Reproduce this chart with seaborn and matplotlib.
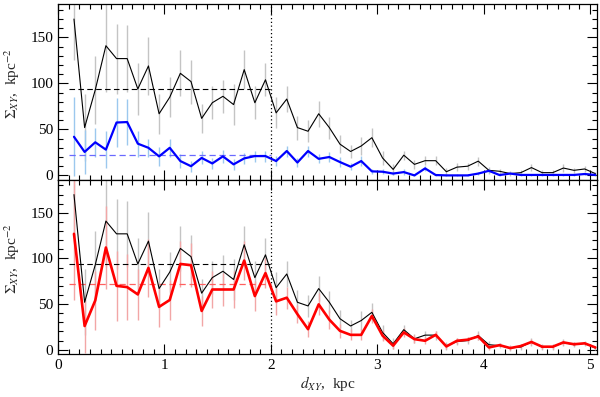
import numpy as np
import pandas as pd
import matplotlib
matplotlib.use("Agg")
import matplotlib.pyplot as plt
import seaborn as sns
from matplotlib.ticker import MultipleLocator

# ---- data ----
d_xy = [0.15, 0.25, 0.35, 0.45, 0.55, 0.65, 0.75, 0.85, 0.95, 1.05,
        1.15, 1.25, 1.35, 1.45, 1.55, 1.65, 1.75, 1.85, 1.95, 2.05,
        2.15, 2.25, 2.35, 2.45, 2.55, 2.65, 2.75, 2.85, 2.95, 3.05,
        3.15, 3.25, 3.35, 3.45, 3.55, 3.65, 3.75, 3.85, 3.95, 4.05,
        4.15, 4.25, 4.35, 4.45, 4.55, 4.65, 4.75, 4.85, 4.95, 5.05]

sigma_total = [170, 52, 93, 141, 127, 127, 94, 119, 67, 85,
               111, 102, 62, 79, 86, 77, 115, 79, 104, 68,
               83, 52, 48, 67, 52, 34, 26, 32, 41, 19,
               6.5, 22, 12, 16, 16, 4, 9, 10, 15.5, 5.5,
               4.5, 2, 3, 8.5, 3, 3, 8, 5.5, 7, 2]
err_total = [45, 36, 37, 50, 38, 36, 28, 32, 22, 22,
             25, 24, 16, 18, 18, 22, 21, 18, 18, 17,
             14, 13, 12, 14, 12, 10, 7, 10, 10, 8,
             6, 5, 5, 5, 5, 4, 4, 4, 5, 4,
             3, 3, 3, 4, 3, 3, 4, 3, 3, 2]

sigma_blue = [42, 25.5, 36, 28, 57.5, 58, 34.5, 30, 20.7, 30,
              15.6, 10, 19, 13, 20.7, 12, 18.5, 21, 21, 15.6,
              26.5, 14, 26.5, 18, 20, 14.5, 9.5, 15.6, 4.4, 4,
              2, 3.6, 0, 7.6, 0.4, 0, 0, 0, 2, 5,
              0.4, 2, 0.5, 0.5, 0.5, 0.5, 0.5, 0.5, 1.5, 0.5]
err_blue = [43, 24, 16, 20, 27, 25, 14, 10, 10, 10,
            8, 6, 7, 6, 7, 6, 6, 6, 6, 5,
            6, 5, 6, 5, 5, 5, 4, 5, 3, 3,
            2, 3, 1, 3, 1, 1, 1, 1, 2, 2,
            1, 1, 1, 1, 1, 1, 1, 1, 1, 1]

sigma_red = [127, 26, 54, 112, 70, 68.6, 60.6, 89.7, 47, 54.5,
             94, 92.6, 42.5, 66, 66, 66, 97.7, 58.8, 84, 53,
             57, 39, 22.5, 49.7, 33, 20.7, 16.3, 16.3, 37, 15.5,
             4.4, 19, 11.6, 9.8, 16.3, 3.6, 9.8, 11, 14.5, 2.5,
             5, 1.8, 4, 8.5, 3.3, 3.3, 8, 6, 7, 2.5]
err_red = [72, 30, 32, 45, 38, 36, 28, 32, 22, 22,
           25, 24, 16, 20, 18, 20, 21, 16, 16, 15,
           12, 10, 9, 12, 10, 8, 6, 6, 8, 6,
           4, 5, 4, 4, 4, 3, 3, 3, 4, 3,
           2, 2, 2, 3, 2, 2, 3, 2, 2, 2]

mean_total = 93.5
mean_blue = 22
mean_red = 72
mean_range = [0.1, 2.0]
d_split = 2.0

df = pd.DataFrame({"d": d_xy, "total": sigma_total, "etot": err_total,
                   "blue": sigma_blue, "eblue": err_blue,
                   "red": sigma_red, "ered": err_red})

# ---- style ----
sns.set_style("ticks")
plt.rcParams["font.family"] = ["Liberation Serif", "DejaVu Serif"]
plt.rcParams["mathtext.fontset"] = "stix"

fig = plt.figure(figsize=(6.0, 3.97), dpi=100)
ax1 = fig.add_axes([0.0967, 0.5466, 0.8983, 0.4425])
ax2 = fig.add_axes([0.0967, 0.1076, 0.8983, 0.4390], sharex=ax1)

gray_err = "#c4c4c4"
blue_err = "#9cc8ee"
red_err = "#f2a6a6"

def draw_total(ax):
    ax.errorbar(df["d"], df["total"], yerr=df["etot"], fmt="none",
                ecolor=gray_err, elinewidth=1.0, zorder=1)
    sns.lineplot(data=df, x="d", y="total", ax=ax, color="black",
                 linewidth=0.8, estimator=None, errorbar=None, zorder=3)
    ax.hlines(mean_total, mean_range[0], mean_range[1], colors="black",
              linestyles=(0, (5, 3)), linewidth=0.8, zorder=2)

# top panel
draw_total(ax1)
ax1.errorbar(df["d"], df["blue"], yerr=df["eblue"], fmt="none",
             ecolor=blue_err, elinewidth=1.0, zorder=1)
sns.lineplot(data=df, x="d", y="blue", ax=ax1, color="#0000ff",
             linewidth=1.6, estimator=None, errorbar=None, zorder=4)
ax1.hlines(mean_blue, mean_range[0], mean_range[1], colors="#6a6aff",
           linestyles=(0, (5, 3)), linewidth=0.9, zorder=2)

# bottom panel
draw_total(ax2)
ax2.errorbar(df["d"], df["red"], yerr=df["ered"], fmt="none",
             ecolor=red_err, elinewidth=1.0, zorder=1)
sns.lineplot(data=df, x="d", y="red", ax=ax2, color="#ff0000",
             linewidth=1.9, estimator=None, errorbar=None, zorder=4)
ax2.hlines(mean_red, mean_range[0], mean_range[1], colors="#ff6060",
           linestyles=(0, (5, 3)), linewidth=0.9, zorder=2)

for ax in (ax1, ax2):
    ax.axvline(d_split, color="black", linestyle=(0, (1, 2)), linewidth=0.9, zorder=2)
    ax.set_xlim(0, 5.066)
    ax.set_ylim(-5, 186)
    ax.xaxis.set_major_locator(MultipleLocator(1))
    ax.xaxis.set_minor_locator(MultipleLocator(0.1))
    ax.yaxis.set_major_locator(MultipleLocator(50))
    ax.yaxis.set_minor_locator(MultipleLocator(10))
    ax.tick_params(which="both", direction="in", top=True, right=True,
                   labelsize=11, width=0.8, colors="black")
    ax.tick_params(which="major", length=7)
    ax.tick_params(which="minor", length=3.5)
    for s in ax.spines.values():
        s.set_linewidth(0.9)
        s.set_color("black")
    ax.set_ylabel(r"$\Sigma_{XY}$,  kpc$^{-2}$", fontsize=11)
    ax.yaxis.set_label_coords(-0.066, 0.55)

ax1.tick_params(labelbottom=False)
ax1.set_xlabel("")
ax2.set_xlabel(r"$d_{XY}$,  kpc", fontsize=11, labelpad=1)

fig.savefig("out.png", dpi=100)
